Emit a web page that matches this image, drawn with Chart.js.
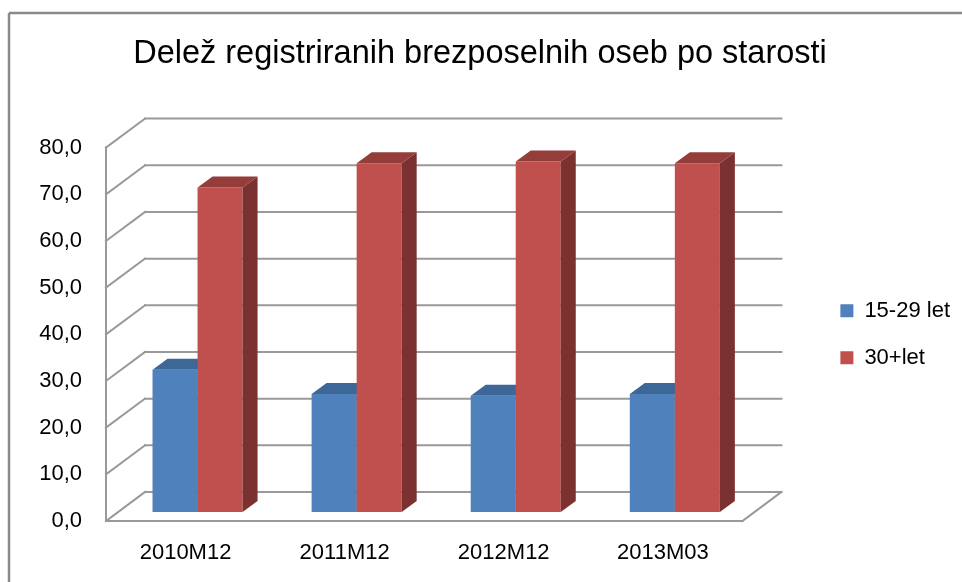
<!DOCTYPE html>
<html>
<head>
<meta charset="utf-8">
<script src="https://cdn.jsdelivr.net/npm/chart.js@4/dist/chart.umd.min.js"></script>
<style>
  html, body { margin: 0; padding: 0; background: #fff; }
  #wrap { width: 962px; height: 582px; position: relative; }
</style>
</head>
<body>
<div id="wrap"><canvas id="chart"></canvas></div>
<script>
// podatki
const categories = ['2010M12', '2011M12', '2012M12', '2013M03'];
const seriesNames = ['15-29 let', '30+let'];
const young = [30.5, 25.3, 24.9, 25.3];
const older = [69.5, 74.7, 75.1, 74.7];
const yMin = 0, yMax = 80, yStep = 10;
const chartTitle = 'Delež registriranih brezposelnih oseb po starosti';

// barve
const frontColors = ['#4F81BD', '#C0504D'];
const topColors = ['#3D6797', '#953D3B'];
const sideColors = ['#325782', '#7B3130'];
const gridColor = '#999999';
const FONT = "'Liberation Sans', Arial, sans-serif";

// globina 3D
const wallDepth = { x: 39, y: -29 };
const barShift = { x: 12, y: -9 };
const barDepth = { x: 15, y: -11 };

function line(ctx, x1, y1, x2, y2) {
  ctx.beginPath();
  ctx.moveTo(x1, y1);
  ctx.lineTo(x2, y2);
  ctx.stroke();
}

function poly(ctx, pts, color) {
  ctx.beginPath();
  ctx.moveTo(pts[0][0], pts[0][1]);
  for (let i = 1; i < pts.length; i++) ctx.lineTo(pts[i][0], pts[i][1]);
  ctx.closePath();
  ctx.fillStyle = color;
  ctx.fill();
}

// okvir + ozadje
const framePlugin = {
  id: 'frame',
  beforeDraw(chart) {
    const ctx = chart.ctx;
    ctx.save();
    ctx.fillStyle = '#fff';
    ctx.fillRect(0, 0, chart.width, chart.height);
    ctx.strokeStyle = '#8a8a8a';
    ctx.lineWidth = 2.5;
    line(ctx, 9, 13, chart.width, 13);
    line(ctx, 9, 13, 9, chart.height);
    ctx.restore();
  }
};

// stene, tla in 3D stolpci
const box3dPlugin = {
  id: 'box3d',
  beforeDatasetsDraw(chart) {
    const ctx = chart.ctx;
    const area = chart.chartArea;
    const yScale = chart.scales.y;
    const L = area.left, R = area.right;
    const dx = wallDepth.x, dy = wallDepth.y;

    ctx.save();
    ctx.strokeStyle = gridColor;
    ctx.lineWidth = 2;
    ctx.lineCap = 'square';
    yScale.ticks.forEach(t => {
      const y = yScale.getPixelForValue(t.value);
      line(ctx, L + dx, y + dy, R + dx, y + dy);
      line(ctx, L, y, L + dx, y + dy);
    });
    const y0 = yScale.getPixelForValue(yMin);
    const yTop = yScale.getPixelForValue(yMax);
    line(ctx, L, y0, L, yTop);
    line(ctx, L, y0, R, y0);
    line(ctx, R, y0, R + dx, y0 + dy);
    ctx.restore();

    // stolpci: po kategorijah, od leve proti desni
    ctx.save();
    ctx.translate(barShift.x, barShift.y);
    const metas = chart.data.datasets.map((d, i) => chart.getDatasetMeta(i));
    categories.forEach((c, i) => {
      metas.forEach((meta, d) => {
        const el = meta.data[i];
        if (!el) return;
        const { x, y, base, width } = el.getProps(['x', 'y', 'base', 'width'], true);
        const l = x - width / 2, r = x + width / 2;
        el.draw(ctx, area);
        const bx = barDepth.x, by = barDepth.y;
        poly(ctx, [[r, y], [r + bx, y + by], [r + bx, base + by], [r, base]], sideColors[d]);
        poly(ctx, [[l, y], [r, y], [r + bx, y + by], [l + bx, y + by]], topColors[d]);
      });
    });
    ctx.restore();
    return false;
  }
};

const ctx = document.getElementById('chart');
const chart = new Chart(ctx, {
  type: 'bar',
  data: {
    labels: categories,
    datasets: [
      { label: seriesNames[0], data: young, backgroundColor: frontColors[0], borderWidth: 0 },
      { label: seriesNames[1], data: older, backgroundColor: frontColors[1], borderWidth: 0 }
    ]
  },
  options: {
    responsive: true,
    maintainAspectRatio: false,
    animation: false,
    devicePixelRatio: 1,
    layout: { padding: { left: 0, right: 2, top: 0, bottom: 0 } },
    datasets: { bar: { categoryPercentage: 0.566, barPercentage: 1 } },
    plugins: {
      title: {
        display: true,
        text: chartTitle,
        color: '#000',
        font: { family: FONT, size: 32.5, weight: 'normal' },
        padding: { top: 35, bottom: 73.6 }
      },
      legend: {
        position: 'right',
        align: 'center',
        fullSize: false,
        labels: {
          color: '#000',
          font: { family: FONT, size: 22 },
          boxWidth: 13,
          boxHeight: 13,
          padding: 25
        }
      },
      tooltip: { enabled: false }
    },
    scales: {
      x: {
        grid: { display: false, drawTicks: false },
        border: { display: false },
        ticks: { color: '#000', font: { family: FONT, size: 22 }, padding: 19, maxRotation: 0 },
        afterFit(s) { s.height = 61; }
      },
      y: {
        min: yMin,
        max: yMax,
        grid: { display: false, drawTicks: false },
        border: { display: false },
        ticks: {
          stepSize: yStep,
          color: '#000',
          font: { family: FONT, size: 22 },
          padding: 24,
          callback: v => v.toFixed(1).replace('.', ',')
        },
        afterFit(s) { s.width = 106; }
      },
      yRight: {
        type: 'linear',
        position: 'right',
        display: true,
        grid: { display: false, drawTicks: false },
        border: { display: false },
        ticks: { display: false },
        afterFit(s) { s.width = 73; }
      }
    }
  },
  plugins: [framePlugin, box3dPlugin]
});
</script>
</body>
</html>
